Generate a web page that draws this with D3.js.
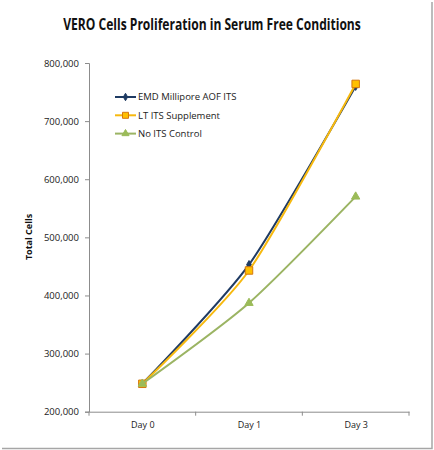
<!DOCTYPE html>
<html>
<head>
<meta charset="utf-8">
<script src="https://cdn.jsdelivr.net/npm/d3@7"></script>
<style>
  body { margin: 0; background: #fff; }
  svg { display: block; font-family: "Open Sans", sans-serif; }
</style>
</head>
<body>
<svg width="434" height="450"></svg>
<script>
// chart data
var days = ["Day 0", "Day 1", "Day 3"];
var emdValues = [248000, 453000, 760000];
var ltValues = [248000, 443000, 764000];
var noItsValues = [248000, 387000, 570000];
var seriesNames = ["EMD Millipore AOF ITS", "LT ITS Supplement", "No ITS Control"];
var yTicks = [200000, 300000, 400000, 500000, 600000, 700000, 800000];

var svg = d3.select("svg"),
    margin = {top: 63, right: 25, bottom: 38, left: 89},
    width = 409 - margin.left,
    height = 411.7 - margin.top,
    g = svg.append("g").attr("transform", "translate(" + margin.left + "," + margin.top + ")");

// shadow frame on right and bottom
svg.append("path")
    .attr("d", "M432,2V448.5H2")
    .attr("fill", "none")
    .attr("stroke", "#a6a6a6")
    .attr("stroke-width", 1.5);

// title, squeezed horizontally to the narrow width of the original font
var title = svg.append("text")
    .attr("text-anchor", "middle")
    .attr("font-size", 15.5)
    .attr("font-weight", "bold")
    .attr("fill", "#111")
    .text("VERO Cells Proliferation in Serum Free Conditions");
var titleW = title.node().getComputedTextLength();
var sx = Math.min(1, 298 / titleW);
title.attr("transform", "translate(212,30) scale(" + sx + ",1)");

var x = d3.scalePoint().domain(days).range([0, width]).padding(0.5),
    xBand = d3.scaleBand().domain(days).range([0, width]),
    y = d3.scaleLinear().domain([200000, 800000]).range([height, 0]);

var fmt = d3.format(",");

// y axis
var yAxis = g.append("g")
    .call(d3.axisLeft(y).tickValues(yTicks).tickFormat(fmt).tickSize(4).tickPadding(6));
yAxis.select(".domain").attr("stroke", "#8c8c8c");
yAxis.selectAll(".tick line").attr("stroke", "#8c8c8c");
yAxis.selectAll("text").attr("font-size", 9.5).attr("fill", "#222").attr("font-family", "Open Sans");

// x axis with ticks between categories
var xAxis = g.append("g")
    .attr("transform", "translate(0," + height + ")")
    .call(d3.axisBottom(x).tickSize(0).tickPadding(10).tickSizeOuter(0));
xAxis.select(".domain").attr("stroke", "#8c8c8c");
xAxis.selectAll("text").attr("font-size", 9).attr("fill", "#222").attr("font-family", "Open Sans");
var bounds = days.map(function(d) { return xBand(d); }).concat([width]);
xAxis.selectAll(".bound")
    .data(bounds)
    .enter().append("line")
    .attr("class", "bound")
    .attr("x1", function(d) { return d; })
    .attr("x2", function(d) { return d; })
    .attr("y1", 0)
    .attr("y2", 4)
    .attr("stroke", "#8c8c8c");

svg.append("text")
    .attr("transform", "translate(32,237) rotate(-90)")
    .attr("text-anchor", "middle")
    .attr("font-size", 9)
    .attr("font-weight", "bold")
    .attr("fill", "#111")
    .text("Total Cells");

var series = [
    {name: seriesNames[0], values: emdValues, color: "#1f3b63", fill: "#1f3b63", stroke: "#1f3b63", shape: d3.symbolDiamond, size: 20, lsize: 16},
    {name: seriesNames[1], values: ltValues, color: "#f7b90f", fill: "#ffc000", stroke: "#d5770f", shape: d3.symbolSquare, size: 56, lsize: 36},
    {name: seriesNames[2], values: noItsValues, color: "#9bb463", fill: "#9bbb59", stroke: "#9bbb59", shape: d3.symbolTriangle, size: 30, lsize: 22}
];

var line = d3.line()
    .curve(d3.curveCardinal.tension(0.3))
    .x(function(d, i) { return x(days[i]); })
    .y(function(d) { return y(d); });

var sg = g.selectAll(".series")
    .data(series)
    .enter().append("g")
    .attr("class", "series");

sg.append("path")
    .attr("d", function(d) { return line(d.values); })
    .attr("fill", "none")
    .attr("stroke", function(d) { return d.color; })
    .attr("stroke-width", 2);

sg.each(function(s) {
    d3.select(this).selectAll(".mk")
        .data(s.values)
        .enter().append("path")
        .attr("class", "mk")
        .attr("transform", function(d, i) { return "translate(" + x(days[i]) + "," + y(d) + ")"; })
        .attr("d", d3.symbol().type(s.shape).size(s.size))
        .attr("fill", s.fill)
        .attr("stroke", s.stroke)
        .attr("stroke-width", 1);
});

// legend
var legend = svg.append("g").attr("transform", "translate(115,97)");
var li = legend.selectAll(".li")
    .data(series)
    .enter().append("g")
    .attr("class", "li")
    .attr("transform", function(d, i) { return "translate(0," + (i * 18.3) + ")"; });
li.append("line")
    .attr("x1", 0).attr("x2", 21)
    .attr("stroke", function(d) { return d.color; })
    .attr("stroke-width", 2);
li.append("path")
    .attr("transform", "translate(10.5,0)")
    .attr("d", function(d) { return d3.symbol().type(d.shape).size(d.lsize)(); })
    .attr("fill", function(d) { return d.fill; })
    .attr("stroke", function(d) { return d.stroke; });
li.append("text")
    .attr("x", 23)
    .attr("dy", "0.35em")
    .attr("font-size", 9.5)
    .attr("fill", "#222")
    .text(function(d) { return d.name; });
</script>
</body>
</html>
